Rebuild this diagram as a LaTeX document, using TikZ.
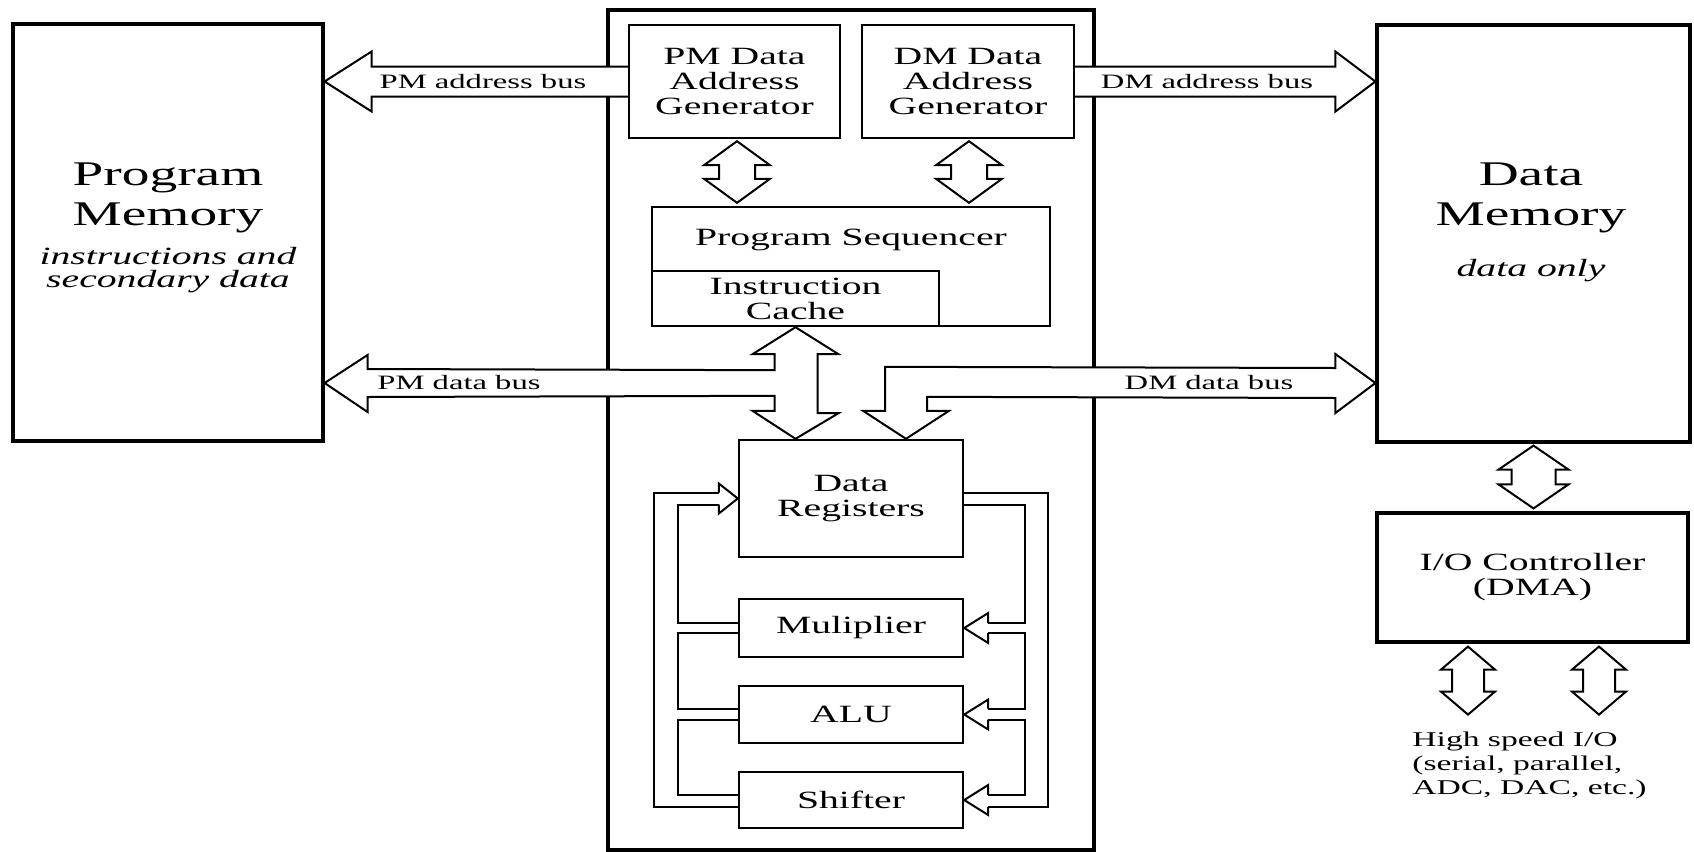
\documentclass[tikz,border=0pt]{standalone}
\usepackage{fontspec}
\setmainfont{Liberation Serif}[FakeStretch=1.6]
\usetikzlibrary{calc}
\newcommand\bigf{\fontsize{17.3}{20}\selectfont}
\newcommand\medf{\fontsize{12.4}{12.5}\selectfont}
\newcommand\itf{\fontsize{12.4}{11.5}\selectfont\itshape}
\newcommand\smf{\fontsize{10.2}{12}\selectfont}
\newcommand\vdbl[5]{%
 \filldraw[busfill] (#1) -- ($(#1)+(#3,#5)$) -- ($(#1)+(#4,#5)$) -- ($(#2)+(#4,-#5)$) -- ($(#2)+(#3,-#5)$) -- (#2) -- ($(#2)+(-#3,-#5)$) -- ($(#2)+(-#4,-#5)$) -- ($(#1)+(-#4,#5)$) -- ($(#1)+(-#3,#5)$) -- cycle;}
\begin{document}
\begin{tikzpicture}[x=0.5pt,y=-0.5pt,
 outerbox/.style={draw, line width=1.6pt, inner sep=0pt, fill=white, align=center, font=\medf},
 innerbox/.style={draw, line width=1.2pt, inner sep=0pt, fill=white, align=center, font=\medf},
 bus/.style={line width=1pt, line join=miter},
 busfill/.style={fill=white, draw, line width=1pt, line join=miter},
 lbl/.style={inner sep=0pt, align=center}]
\useasboundingbox (0,0) rectangle (1694,852);
% main boxes
\node[outerbox, minimum width=155pt, minimum height=208.5pt] (pm) at (168,232.5) {};
\node[outerbox, minimum width=156.5pt, minimum height=208.5pt] (dm) at (1533.5,233.5) {};
\node[outerbox, minimum width=243pt, minimum height=420pt] (cpu) at (851,430) {};
\node[outerbox, minimum width=155.5pt, minimum height=64.5pt] (io) at (1532.5,577.5) {I/O Controller\\(DMA)};
% inner boxes
\node[innerbox, minimum width=105.5pt, minimum height=56.5pt] (pmdag) at (734.5,81.5) {PM Data\\Address\\Generator};
\node[innerbox, minimum width=106pt, minimum height=56.5pt] (dmdag) at (968,81.5) {DM Data\\Address\\Generator};
\node[innerbox, minimum width=199pt, minimum height=59.5pt] (seq) at (851,266.5) {};
\node[innerbox, minimum width=143.5pt, minimum height=27.5pt] (ic) at (795.5,298.5) {Instruction\\Cache};
\node[innerbox, minimum width=112pt, minimum height=58.5pt] (dr) at (851,498.5) {Data\\Registers};
\node[innerbox, minimum width=112pt, minimum height=29pt] (mul) at (851,628) {Muliplier};
\node[innerbox, minimum width=112pt, minimum height=28.5pt] (alu) at (851,714.5) {ALU};
\node[innerbox, minimum width=112pt, minimum height=28pt] (shf) at (851,800) {Shifter};
% texts
\node[lbl, font=\bigf] (pmt) at (168,198) {Program\\Memory};
\node[lbl, font=\itf] (pmi) at (168,270) {instructions and\\secondary data};
\node[lbl, font=\bigf] (dmt) at (1531,198) {Data\\Memory};
\node[lbl, font=\itf] (dmi) at (1531,271) {data only};
\node[lbl, font=\medf] (seqt) at (851,240) {Program Sequencer};
% address buses
\filldraw[busfill] ($(pmdag.west)+(0,-15)$) -- ($(pm.east |- pmdag.west)+(47,-15)$) -- ++(0,-15) -- (pm.east |- pmdag.west) -- ++(47,30) -- ++(0,-15) -- ($(pmdag.west)+(0,15)$);
\filldraw[busfill] ($(dmdag.east)+(0,-15)$) -- ($(dm.west |- dmdag.east)+(-40,-15)$) -- ++(0,-15) -- (dm.west |- dmdag.east) -- ++(-40,30) -- ++(0,-15) -- ($(dmdag.east)+(0,15)$);
\node[lbl, font=\smf] (pmab) at (483,82) {PM address bus};
\node[lbl, font=\smf] (dmab) at (1207,82) {DM address bus};
% AG <-> sequencer
\path (pmdag.south) ++(2.5,2) coordinate (pa1);
\path (pa1 |- seq.north) ++(0,-3) coordinate (pa2);
\vdbl{pa1}{pa2}{33}{18}{24}
\path (dmdag.south) ++(1,2) coordinate (da1);
\path (da1 |- seq.north) ++(0,-3) coordinate (da2);
\vdbl{da1}{da2}{33}{18}{24}
% central bus + PM data bus
\coordinate (ct) at (ic.south);
\coordinate (cb) at (ct |- dr.north);
\coordinate (by) at (0,383);
\coordinate (pdl) at (pm.east |- by);
\filldraw[busfill] (ct) -- ++(43,27) -- ++(-21,0) -- ++(0,59) -- ++(21,0) -- (cb) -- ++(-43,-28) -- ++(22,0) -- ++(0,-15) -- ($(pdl)+(43,14)$) -- ++(0,15) -- (pdl) -- ++(43,-28) -- ++(0,14) -- ($(ct)+(-21,43)$) -- ++(0,-16) -- ++(-22,0) -- cycle;
% DM data bus
\coordinate (dbr) at (dm.west |- by);
\coordinate (dbt) at ($(dr.north)+(55,0)$);
\filldraw[busfill] (dbt) -- ++(43,-28) -- ++(-22,0) -- ++(0,-14) -- ($(dbr)+(-40,15)$) -- ++(0,15) -- (dbr) -- ++(-40,-29) -- ++(0,14) -- ($(dbt)+(-21,-72)$) -- ++(0,44) -- ++(-22,0) -- cycle;
\node[lbl, font=\smf] (pmdb) at (459,383) {PM data bus};
\node[lbl, font=\smf] (dmdb) at (1209,383) {DM data bus};
% DM <-> IO
\path (dm.south) ++(0,2) coordinate (ma1);
\path (ma1 |- io.north) ++(0,-3) coordinate (ma2);
\vdbl{ma1}{ma2}{35}{22}{24}
% IO lower
\path (io.south) ++(-64.5,3) coordinate (ha1);
\path (ha1) ++(0,68) coordinate (hb1);
\vdbl{ha1}{hb1}{27}{16}{23}
\path (io.south) ++(66.5,3) coordinate (ha2);
\path (ha2) ++(0,68) coordinate (hb2);
\vdbl{ha2}{hb2}{27}{16}{23}
\node[anchor=north west, align=left, inner sep=0pt, font=\fontsize{10.5}{12}\selectfont] (hsio) at (1412,732) {High speed I/O\\(serial, parallel,\\ADC, DAC, etc.)};
% left loop
\draw[bus] ($(dr.west)+(-19,-6)$) -- ($(dr.west)+(-84,-6)$) |- ($(shf.west)+(0,7)$);
\draw[bus] ($(dr.west)+(-19,6)$) -- ($(dr.west)+(-60,6)$) |- ($(mul.west)+(0,-5)$);
\draw[bus] ($(mul.west)+(0,5)$) -- ($(mul.west)+(-60,5)$) |- ($(alu.west)+(0,-6)$);
\draw[bus] ($(alu.west)+(0,5)$) -- ($(alu.west)+(-60,5)$) |- ($(shf.west)+(0,-5)$);
\draw[bus] ($(dr.west)+(-19,-6)$) -- ($(dr.west)+(-19,-15)$) -- (dr.west) -- ($(dr.west)+(-19,15)$) -- ($(dr.west)+(-19,6)$);
% right loop
\draw[bus] ($(dr.east)+(0,-6)$) -- ($(dr.east)+(84,-6)$) |- ($(shf.east)+(24,7)$);
\draw[bus] ($(dr.east)+(0,6)$) -- ($(dr.east)+(61,6)$) |- ($(mul.east)+(24,-5)$);
\draw[bus] ($(mul.east)+(24,5)$) -- ($(mul.east)+(61,5)$) |- ($(alu.east)+(24,-6)$);
\draw[bus] ($(alu.east)+(24,5)$) -- ($(alu.east)+(61,5)$) |- ($(shf.east)+(24,-5)$);
\foreach \b/\u/\d in {mul/-5/5, alu/-6/5, shf/-5/7}{
 \draw[bus] ($(\b.east)+(24,\u)$) -- ($(\b.east)+(24,-15)$) -- (\b.east) -- ($(\b.east)+(24,15)$) -- ($(\b.east)+(24,\d)$);
}
\end{tikzpicture}
\end{document}
